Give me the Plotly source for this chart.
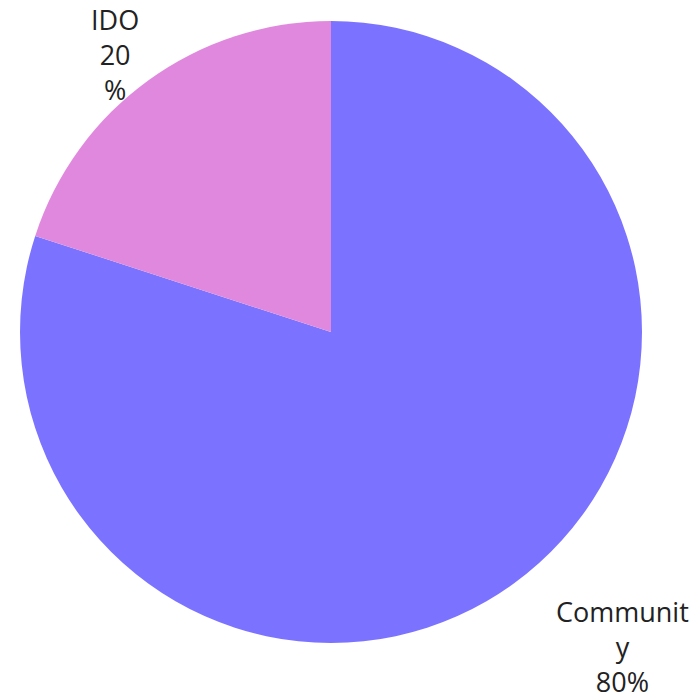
import plotly.graph_objects as go

labels = ["Community", "IDO"]
values = [80, 20]
label_text = ["Communit<br>y<br>80%", "IDO<br>20<br>%"]
colors = ["#7B73FF", "#E088DD"]

W, H = 696, 699
fig = go.Figure(go.Pie(
    labels=labels,
    values=values,
    textinfo="none",
    sort=False,
    direction="clockwise",
    rotation=0,
    marker=dict(colors=colors, line=dict(width=0)),
    showlegend=False,
    hoverinfo="label+percent",
    domain=dict(x=[20 / W, 642 / W], y=[1 - 643 / H, 1 - 21 / H]),
))

# label placement (pixel centers of each label block)
label_pos = [(622, 646), (115, 55)]
for txt, (px, py) in zip(label_text, label_pos):
    fig.add_annotation(
        text=txt, xref="paper", yref="paper",
        x=px / W, y=1 - py / H,
        xanchor="center", yanchor="middle",
        showarrow=False, align="center",
        font=dict(family="Open Sans", size=27, color="#222222"),
    )

fig.update_layout(
    width=W, height=H,
    margin=dict(l=0, r=0, t=0, b=0),
    paper_bgcolor="white",
    plot_bgcolor="white",
)
fig.write_html(
    "out.html",
    config={"displayModeBar": False},
    post_script="document.body.style.margin='0px';document.body.style.overflow='hidden';",
)
